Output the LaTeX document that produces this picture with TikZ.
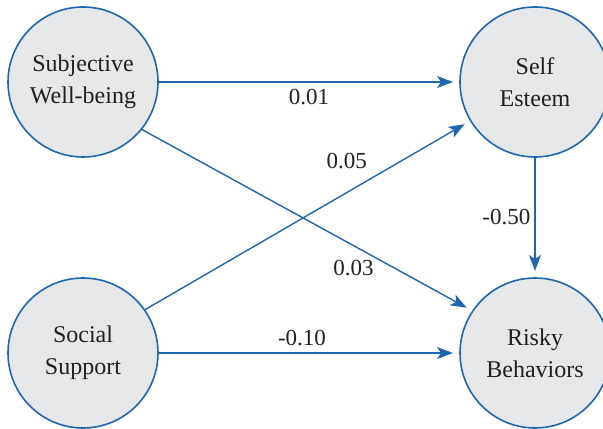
\documentclass[tikz,border=0pt]{standalone}
\usepackage{fontspec}
\setmainfont{Liberation Serif}
\usepackage{tikz}
\usetikzlibrary{positioning, arrows.meta}

\definecolor{linkblue}{RGB}{30,102,174}
\definecolor{factorgray}{RGB}{230,231,233}
\definecolor{textgray}{RGB}{35,31,32}

\begin{document}
\begin{tikzpicture}[
    factor/.style={
	circle,
	draw=linkblue,
	fill=factorgray,
	line width=0.8pt,
	minimum size=75pt,
	inner sep=0pt,
	outer sep=0pt,
	align=center,
	text=textgray,
	font=\fontsize{12}{16}\selectfont
    },
    link/.style={
	->,
	draw=linkblue,
	line width=0.7pt,
	shorten >=3.5pt
    },
    coef/.style={
	text=textgray,
	font=\fontsize{11.5}{13}\selectfont
    },
    >={Stealth[length=8pt,width=6pt,inset=2pt]}
]
	\useasboundingbox (0,0) rectangle (301.5pt,214pt);

	\node[factor] (wellbeing) at (41.5pt,173pt) {Subjective\\Well-being};
	\node[factor, right=151pt of wellbeing] (esteem) {Self\\Esteem};
	\node[factor, below=60.5pt of wellbeing] (support) {Social\\Support};
	\node[factor, below=60.5pt of esteem] (risky) {Risky\\Behaviors};

	% Well-being -> Self Esteem / Risky Behaviors
	\draw[link] (wellbeing.east) -- (esteem.west)
	    node[coef, midway, below] (c01) {0.01};
	\draw[link] (wellbeing.-39) -- (risky.146)
	    node[coef, pos=0.64, yshift=-11pt] (c03) {0.03};

	% Social Support -> Self Esteem / Risky Behaviors
	\draw[link] (support.35) -- (esteem.211)
	    node[coef, pos=0.62, yshift=16pt] (c05) {0.05};
	\draw[link] (support.east) -- (risky.west)
	    node[coef, midway, above, xshift=-3.5pt] (c10) {-0.10};

	% Self Esteem -> Risky Behaviors
	\draw[link] (esteem.south) -- (risky.north)
	    node[coef, midway, left, inner sep=2pt] (c50) {-0.50};
\end{tikzpicture}
\end{document}
